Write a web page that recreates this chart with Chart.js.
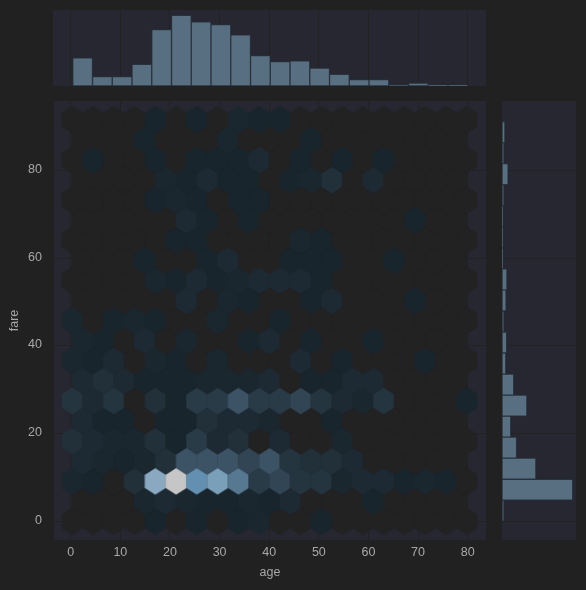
<!DOCTYPE html>
<html>
<head>
<meta charset="utf-8">
<style>
  html, body { margin: 0; background: #212121; overflow: hidden; }
  canvas { position: absolute; }
</style>
<script src="https://cdn.jsdelivr.net/npm/chart.js@4"></script>
</head>
<body>
<canvas id="main" style="left:0;top:95px"></canvas>
<canvas id="top" style="left:53px;top:10px"></canvas>
<canvas id="right" style="left:502px;top:101px"></canvas>
<script>
const ageTicks = [0, 10, 20, 30, 40, 50, 60, 70, 80];
const fareTicks = [0, 20, 40, 60, 80];

// age histogram (top margin)
const ageBins = [2.41, 6.39, 10.37, 14.35, 18.33, 22.31, 26.29, 30.27, 34.25, 38.23, 42.21, 46.19, 50.17, 54.15, 58.13, 62.11, 66.09, 70.07, 74.05, 78.03];
const ageCounts = [39, 13, 13, 30, 78, 98, 89, 85, 71, 42, 34, 35, 25, 16, 9, 9, 2, 4, 1, 1];

// fare histogram (right margin)
const fareBins = [2.4, 7.19, 11.99, 16.78, 21.58, 26.37, 31.17, 35.96, 40.76, 45.55, 50.35, 55.14, 59.94, 64.73, 69.53, 74.32, 79.12, 83.91, 88.71];
const fareCounts = [7, 242, 116, 50, 30, 85, 40, 13, 16, 7, 14, 17, 3, 3, 3, 7, 21, 7, 10];

// hexbin grid, rows go bottom to top, odd rows are shifted half a cell
const hexFares = [0, 4.58, 9.15, 13.73, 18.31, 22.89, 27.46, 32.04, 36.62, 41.19, 45.77, 50.35, 54.92, 59.5, 64.08, 68.66, 73.23, 77.81, 82.39, 86.96, 91.54];
const hexAgesEven = [0.3, 4.49, 8.67, 12.86, 17.04, 21.23, 25.41, 29.6, 33.78, 37.97, 42.15, 46.34, 50.52, 54.71, 58.89, 63.08, 67.26, 71.45, 75.63, 79.82];
const hexAgesOdd = [2.39, 6.58, 10.76, 14.95, 19.13, 23.32, 27.5, 31.69, 35.87, 40.06, 44.24, 48.43, 52.61, 56.8, 60.98, 65.17, 69.35, 73.54, 77.72];
const hexShades = [
    [0,0,0,0,1,0,1,0,1,2,0,0,1,0,0,0,0,0,0,0],
    [0,0,0,2,3,2,1,1,2,1,3,0,0,0,1,0,0,0,0],
    [2,1,0,4,12,13,10,11,9,6,7,5,5,2,3,3,1,2,1,0],
    [3,2,1,2,4,8,8,8,7,8,5,4,4,3,0,0,0,0,0],
    [4,3,2,2,4,1,6,3,4,0,3,0,0,2,0,0,0,0,0,0],
    [3,1,1,0,1,1,4,3,3,2,0,0,1,0,0,0,0,0,0],
    [5,3,5,0,4,1,6,6,8,6,6,7,5,3,2,5,0,0,0,1],
    [3,4,3,1,1,1,2,2,2,3,0,1,1,3,3,0,0,0,0],
    [2,1,3,0,2,1,0,2,0,0,0,3,0,1,0,0,0,1,0,0],
    [2,1,0,3,0,2,0,0,1,3,0,1,0,0,1,0,0,0,0],
    [2,0,1,2,1,0,0,2,0,0,1,0,0,0,0,0,0,0,0,0],
    [0,0,0,0,0,3,0,2,1,0,0,1,3,0,0,0,1,0,0],
    [0,0,0,0,2,1,3,1,2,3,3,3,1,0,0,0,0,0,0,0],
    [0,0,0,1,0,0,1,3,0,0,1,1,1,0,0,1,0,0,0],
    [0,0,0,0,0,1,1,0,0,0,0,2,1,0,0,0,0,0,0,0],
    [0,0,0,0,0,3,1,0,1,0,0,0,0,0,0,0,1,0,0],
    [0,0,0,0,1,2,1,0,1,1,0,0,0,0,0,0,0,0,0,0],
    [0,0,0,0,2,1,3,1,1,0,1,2,4,0,3,0,0,0,0],
    [0,1,0,0,1,0,1,1,1,3,0,1,0,1,0,1,0,0,0,0],
    [0,0,0,1,0,0,0,2,0,0,0,1,0,0,0,0,0,0,0],
    [0,0,0,0,1,0,1,0,2,1,1,0,0,0,0,0,0,0,0,0]
];
const shadeColors = ['#222222', '#18252c', '#1b272f', '#1e2a33', '#213039', '#25353f', '#2a3b48', '#314554', '#3c5365', '#567891', '#6390b0', '#7a9fb9', '#8aa9c1', '#c6c6c6'];

const AXES_BG = '#262731';
const GRID = '#222222';
const TEXT = '#a8a8a8';
const FONT = "'Liberation Sans', Arial, sans-serif";
const BAR_FILL = 'rgba(94,120,139,0.9)';
const BAR_EDGE = 'rgba(42,52,62,0.9)';

Chart.defaults.animation = false;
Chart.defaults.responsive = false;
Chart.defaults.plugins.legend.display = false;
Chart.defaults.plugins.tooltip.enabled = false;
Chart.defaults.font.family = FONT;

const plotBackground = {
    id: 'plotBackground',
    beforeDraw(chart) {
        const a = chart.chartArea;
        chart.ctx.fillStyle = AXES_BG;
        chart.ctx.fillRect(a.left, a.top, a.right - a.left, a.bottom - a.top);
    }
};

const useTicks = values => scale => { scale.ticks = values.map(value => ({ value })); };

// keep the axis from reserving room for its end labels, the plot box is fixed
function fitAxis(size, prop) {
    return scale => {
        scale[prop] = size;
        scale.paddingLeft = scale.paddingRight = scale.paddingTop = scale.paddingBottom = 0;
    };
}

// Chart.js has no hexagon point style, so each shade gets a small sprite
function hexSprite(color) {
    const c = document.createElement('canvas');
    c.width = 24;
    c.height = 30;
    const g = c.getContext('2d');
    const hw = 10.6, r = 13.6;
    g.fillStyle = color;
    g.beginPath();
    g.moveTo(12, 15 - r);
    g.lineTo(12 + hw, 15 - r / 2);
    g.lineTo(12 + hw, 15 + r / 2);
    g.lineTo(12, 15 + r);
    g.lineTo(12 - hw, 15 + r / 2);
    g.lineTo(12 - hw, 15 - r / 2);
    g.closePath();
    g.fill();
    return c;
}
const sprites = shadeColors.map(hexSprite);

const hexPoints = [];
hexShades.forEach((row, j) => {
    const ages = j % 2 ? hexAgesOdd : hexAgesEven;
    row.forEach((shade, i) => hexPoints.push({ x: ages[i], y: hexFares[j], shade }));
});

const mainCanvas = document.getElementById('main');
mainCanvas.width = 490;
mainCanvas.height = 495;
new Chart(mainCanvas, {
    type: 'scatter',
    data: {
        datasets: [{
            data: hexPoints,
            pointRadius: 14,
            pointStyle: ctx => ctx.raw ? sprites[ctx.raw.shade] : 'circle'
        }]
    },
    options: {
        layout: { autoPadding: false, padding: { top: 6, right: 4, left: 0, bottom: 0 } },
        scales: {
            x: {
                type: 'linear',
                min: -3.37,
                max: 83.69,
                afterBuildTicks: useTicks(ageTicks),
                afterFit: fitAxis(50, 'height'),
                border: { display: false },
                grid: { color: GRID, drawTicks: false },
                ticks: { color: TEXT, font: { size: 12.5 }, padding: 5, maxRotation: 0, autoSkip: false },
                title: { display: true, text: 'age', color: TEXT, font: { size: 12.5 }, padding: { top: 6, bottom: 10 } }
            },
            y: {
                type: 'linear',
                min: -4.26,
                max: 95.8,
                afterBuildTicks: useTicks(fareTicks),
                afterFit: fitAxis(54, 'width'),
                border: { display: false },
                grid: { color: GRID, drawTicks: false },
                ticks: { color: TEXT, font: { size: 12.5 }, padding: 12, autoSkip: false, labelOffset: -1 },
                title: { display: true, text: 'fare', color: TEXT, font: { size: 12.5 }, padding: { top: 7, bottom: 6 } }
            }
        }
    },
    plugins: [plotBackground]
});

const topCanvas = document.getElementById('top');
topCanvas.width = 433;
topCanvas.height = 76;
new Chart(topCanvas, {
    type: 'bar',
    data: {
        labels: ageBins,
        datasets: [{
            data: ageCounts.map((v, i) => ({ x: ageBins[i], y: v })),
            backgroundColor: BAR_FILL,
            borderColor: BAR_EDGE,
            borderWidth: 1,
            borderSkipped: false,
            barPercentage: 1,
            categoryPercentage: 1
        }]
    },
    options: {
        scales: {
            x: {
                type: 'linear',
                offset: false,
                min: -3.56,
                max: 83.69,
                afterBuildTicks: useTicks(ageTicks),
                afterFit: fitAxis(0, 'height'),
                border: { display: false },
                grid: { color: GRID, drawTicks: false, offset: false },
                ticks: { display: false }
            },
            y: { display: false, min: 0, max: 105.3 }
        }
    },
    plugins: [plotBackground]
});

const rightCanvas = document.getElementById('right');
rightCanvas.width = 74;
rightCanvas.height = 439;
new Chart(rightCanvas, {
    type: 'bar',
    data: {
        labels: fareBins,
        datasets: [{
            data: fareCounts.map((v, i) => ({ x: v, y: fareBins[i] })),
            backgroundColor: BAR_FILL,
            borderColor: BAR_EDGE,
            borderWidth: 1,
            borderSkipped: false,
            barPercentage: 1,
            categoryPercentage: 1
        }]
    },
    options: {
        indexAxis: 'y',
        scales: {
            x: { display: false, min: 0, max: 253.3 },
            y: {
                type: 'linear',
                offset: false,
                min: -4.26,
                max: 95.8,
                afterBuildTicks: useTicks(fareTicks),
                afterFit: fitAxis(0, 'width'),
                border: { display: false },
                grid: { color: GRID, drawTicks: false, offset: false },
                ticks: { display: false }
            }
        }
    },
    plugins: [plotBackground]
});
</script>
</body>
</html>
